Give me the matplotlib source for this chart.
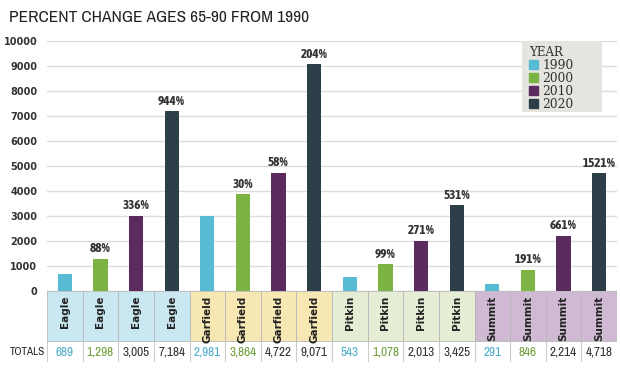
import matplotlib as mpl
mpl.use('Agg')
import matplotlib.pyplot as plt
from matplotlib import font_manager
from matplotlib.patches import Patch, Rectangle

counties = ['Eagle'] * 4 + ['Garfield'] * 4 + ['Pitkin'] * 4 + ['Summit'] * 4
years = ['1990', '2000', '2010', '2020']
totals = [689, 1298, 3005, 7184,
          2981, 3864, 4722, 9071,
          543, 1078, 2013, 3425,
          291, 846, 2214, 4718]
pct = ['', '88%', '336%', '944%',
       '', '30%', '58%', '204%',
       '', '99%', '271%', '531%',
       '', '191%', '661%', '1521%']

year_colors = ['#57bcd3', '#7bb442', '#5b2b5f', '#2c3e48']
total_colors = ['#4aaec9', '#6f9f3a', '#333333', '#333333']
county_colors = {'Eagle': '#c9e8f1', 'Garfield': '#f6e7b3',
                 'Pitkin': '#e5eed5', 'Summit': '#cfb9d3'}

# pick a condensed family if one is installed (and one with a bold face)
fl = font_manager.fontManager.ttflist
cond = sorted({f.name for f in fl if 'Narrow' in f.name or 'Condensed' in f.name})
cond_b = sorted({f.name for f in fl if ('Narrow' in f.name or 'Condensed' in f.name)
                 and f.weight in ('bold', 700, 'heavy', 800)})
narrow = [cond[0], 'DejaVu Sans'] if cond else ['Lato', 'DejaVu Sans']
narrow_b = [cond_b[0], 'DejaVu Sans'] if cond_b else ['DejaVu Sans']
scale = 1.0 if cond else 0.88
pct_size = 9.5 if cond_b else 6.5

fig = plt.figure(figsize=(6.2, 3.84), dpi=100)
W, H = 620, 384

def box(x0, y0, x1, y1):
    return [x0 / W, 1 - y1 / H, (x1 - x0) / W, (y1 - y0) / H]

ax = fig.add_axes(box(47, 41, 617, 291))
xs = list(range(len(totals)))
cols = [year_colors[i % 4] for i in xs]
ax.bar(xs, totals, width=0.4, color=cols, zorder=3)
ax.set_xlim(-0.5, 15.5)
ax.set_ylim(0, 10000)
ax.set_yticks(range(0, 10001, 1000))
ax.set_xticks([])
ax.grid(axis='y', color='#dddddd', lw=1, zorder=0)
for s in ax.spines.values():
    s.set_visible(False)
ax.tick_params(axis='y', length=0, pad=7)
for lab in ax.get_yticklabels():
    lab.set_fontweight('bold')
    lab.set_fontsize(7)
    lab.set_color('#333333')

for x, v, p in zip(xs, totals, pct):
    if p:
        ax.annotate(p, (x, v), xytext=(0, 2.5), textcoords='offset points',
                    ha='center', va='bottom', fontsize=pct_size, fontweight='bold',
                    family=narrow_b, color='#333333')

# legend on a grey panel
ax.add_patch(Rectangle((522 / W, 1 - 112 / H), 80 / W, 71 / H, transform=fig.transFigure,
                       facecolor='#e6e4df', edgecolor='none', zorder=4, clip_on=False))
handles = [Patch(color=c, label=y) for c, y in zip(year_colors, years)]
leg = ax.legend(handles=handles, title='YEAR', loc='upper left',
                bbox_to_anchor=(525 / W, 1 - 42 / H), bbox_transform=fig.transFigure,
                frameon=False, handlelength=0.75, handleheight=0.75, handletextpad=0.35,
                labelspacing=0.0, borderpad=0.3, borderaxespad=0, alignment='left',
                prop={'family': 'DejaVu Serif', 'size': 8.8})
leg.set_zorder(5)
leg.get_title().set_fontfamily('DejaVu Serif')
leg.get_title().set_fontsize(8.5)
leg.get_title().set_color('#333333')
for t in leg.get_texts():
    t.set_color('#333333')

# table of county names and totals below the bars
tb = fig.add_axes(box(47, 291, 617, 362))
tb.set_xlim(-0.5, 15.5)
tb.set_ylim(0, 71)
tb.axis('off')
tb.bar(xs, 50, bottom=21, width=1, color=[county_colors[c] for c in counties],
       edgecolor='#b8b8b8', lw=0.6)
tb.vlines([x - 0.5 for x in xs] + [15.5], 0, 21, color='#cccccc', lw=0.8)
for x, c, v in zip(xs, counties, totals):
    tb.text(x, 66, c, rotation=90, ha='center', va='top', fontsize=7.5,
            fontweight='bold', color='#222222')
    tb.text(x, 10, f'{v:,}', ha='center', va='center', fontsize=9.5 * scale,
            family=narrow, color=total_colors[x % 4])
fig.text(10 / W, 1 - 352 / H, 'TOTALS', ha='left', va='center', fontsize=8 * scale,
         family=narrow, color='#222222')

fig.text(9 / W, 1 - 18 / H, 'PERCENT CHANGE AGES 65-90 FROM 1990', ha='left',
         va='center', fontsize=12.5 * scale, family=narrow, color='#222222')

fig.savefig('out.png', dpi=100)
